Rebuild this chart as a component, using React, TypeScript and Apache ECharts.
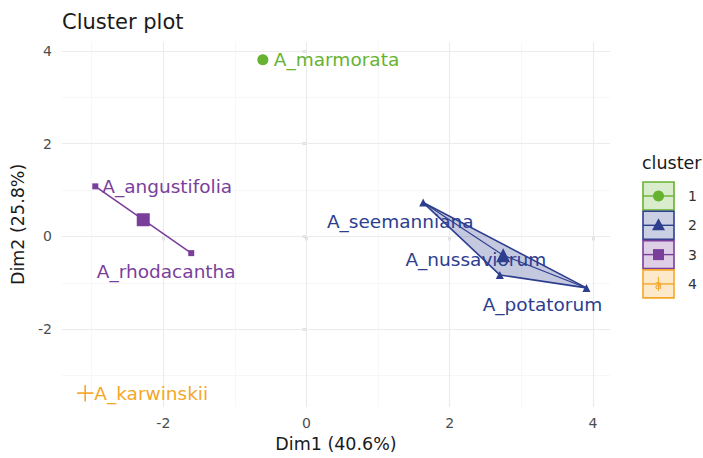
import React, { useEffect, useRef } from 'react';
import * as echarts from 'echarts';

// ---------- data ----------
const species = ['A_marmorata', 'A_seemanniana', 'A_nussaviorum', 'A_potatorum', 'A_angustifolia', 'A_rhodacantha', 'A_karwinskii'];
const dim1 = [-0.61, 1.63, 2.70, 3.91, -2.95, -1.61, -3.09];
const dim2 = [3.81, 0.73, -0.83, -1.11, 1.08, -0.36, -3.38];
const clusterOf = [1, 2, 2, 2, 3, 3, 4];
const clusters = [1, 2, 3, 4];
const majorTicks = [-2, 0, 2, 4];
const minorTicks = [-3, -1, 1, 3];
const chartTitle = 'Cluster plot';
const xTitle = 'Dim1 (40.6%)';
const yTitle = 'Dim2 (25.8%)';
const legendTitle = 'cluster';

// ---------- style ----------
const FONT = 'DejaVu Sans';
const COLORS: Record<number, string> = { 1: '#67b231', 2: '#2d3e8f', 3: '#7a3e9b', 4: '#f5a728' };
const PLUS = 'path://M0,4.6H10V5.4H0Z M4.6,0H5.4V10H4.6Z';
const SYMBOLS: Record<number, string> = { 1: 'circle', 2: 'triangle', 3: 'rect', 4: PLUS };
const PT_SIZE: Record<number, number> = { 1: 10, 2: 8, 3: 6, 4: 16 };
const CEN_SIZE: Record<number, number> = { 1: 11, 2: 14, 3: 13, 4: 16 };
const labelPlacement: Record<string, any> = {
  A_marmorata: { position: 'right', distance: 6 },
  A_angustifolia: { position: 'right', distance: 4 },
  A_karwinskii: { position: 'right', distance: 1 },
  A_rhodacantha: { position: 'inside', offset: [-25, 18] },
  A_seemanniana: { position: 'inside', offset: [-23, 19] },
  A_nussaviorum: { position: 'inside', offset: [-24, -15] },
  A_potatorum: { position: 'inside', offset: [-44, 17] },
};

function hexAlpha(hex: string, a: number) {
  const r = parseInt(hex.slice(1, 3), 16), g = parseInt(hex.slice(3, 5), 16), b = parseInt(hex.slice(5, 7), 16);
  return `rgba(${r},${g},${b},${a})`;
}

const idxOf = (c: number) => species.map((_, i) => i).filter((i) => clusterOf[i] === c);
const centroid = (c: number) => {
  const ids = idxOf(c);
  return [ids.reduce((s, i) => s + dim1[i], 0) / ids.length, ids.reduce((s, i) => s + dim2[i], 0) / ids.length];
};

export default function App() {
  const ref = useRef<HTMLDivElement>(null);
  useEffect(() => {
    if (!ref.current) return;
    const chart = echarts.init(ref.current, undefined, { renderer: 'svg' });

    const gridLine = (axis: 'xAxis' | 'yAxis', v: number, major: boolean) => ({
      [axis]: v,
      lineStyle: { color: major ? '#ebebeb' : '#f4f4f4', width: major ? 1.1 : 0.7, type: 'solid' },
    });

    const pointSeries = clusters.map((c) => ({
      type: 'scatter',
      z: 4,
      symbol: SYMBOLS[c],
      symbolSize: PT_SIZE[c],
      itemStyle: { color: COLORS[c], opacity: 1 },
      data: idxOf(c).map((i) => ({
        value: [dim1[i], dim2[i]],
        name: species[i],
        label: {
          show: true,
          formatter: species[i],
          color: COLORS[c],
          fontFamily: FONT,
          fontSize: 18.5,
          align: labelPlacement[species[i]].position === 'right' ? 'left' : 'center',
          verticalAlign: 'middle',
          ...labelPlacement[species[i]],
        },
      })),
    }));

    const centroidSeries = clusters.map((c) => ({
      type: 'scatter',
      z: 3,
      symbol: SYMBOLS[c],
      symbolSize: CEN_SIZE[c],
      itemStyle: { color: COLORS[c], opacity: 1 },
      data: [centroid(c)],
    }));

    const hullSeries = {
      type: 'custom',
      coordinateSystem: 'cartesian2d',
      z: 2,
      silent: true,
      data: [[0, 0]],
      renderItem: (_p: any, api: any) => {
        const children: any[] = [];
        clusters.forEach((c) => {
          const ids = idxOf(c);
          if (ids.length < 2) return;
          const pts = ids.map((i) => api.coord([dim1[i], dim2[i]]));
          children.push({
            type: 'polygon',
            shape: { points: pts },
            style: { fill: hexAlpha(COLORS[c], 0.28), stroke: COLORS[c], lineWidth: 1.6, lineJoin: 'round' },
          });
          if (ids.length > 2) {
            const cen = api.coord(centroid(c));
            children.push({
              type: 'polyline',
              shape: { points: [pts[0], cen, pts[pts.length - 1]] },
              style: { fill: 'none', stroke: COLORS[c], lineWidth: 1.1 },
            });
          }
        });
        return { type: 'group', children };
      },
    };

    const gridSeries = {
      type: 'scatter',
      z: 1,
      silent: true,
      data: [],
      markLine: {
        z: 1,
        zlevel: 0,
        silent: true,
        symbol: ['none', 'none'],
        label: { show: false },
        animation: false,
        data: [
          ...minorTicks.map((v) => gridLine('xAxis', v, false)),
          ...minorTicks.map((v) => gridLine('yAxis', v, false)),
          ...majorTicks.map((v) => gridLine('xAxis', v, true)),
          ...majorTicks.map((v) => gridLine('yAxis', v, true)),
        ],
      },
    };

    const legendItems: any[] = [];
    const lx = 643, lw = 31, lh = 28, ltop = 182, lstep = 29.3;
    clusters.forEach((c, k) => {
      const top = ltop + k * lstep;
      const cy = top + lh / 2;
      const cx = lx + lw / 2;
      const col = COLORS[c];
      legendItems.push({ type: 'rect', shape: { x: lx, y: top, width: lw, height: lh }, style: { fill: hexAlpha(col, 0.25), stroke: col, lineWidth: 1.6 } });
      legendItems.push({ type: 'line', shape: { x1: lx, y1: cy, x2: lx + lw, y2: cy }, style: { stroke: col, lineWidth: 1.4 } });
      if (c === 1) legendItems.push({ type: 'circle', shape: { cx, cy, r: 5.5 }, style: { fill: col } });
      if (c === 2) legendItems.push({ type: 'polygon', shape: { points: [[cx, cy - 7], [cx + 6.5, cy + 5], [cx - 6.5, cy + 5]] }, style: { fill: col } });
      if (c === 3) legendItems.push({ type: 'rect', shape: { x: cx - 5.5, y: cy - 5.5, width: 11, height: 11 }, style: { fill: col } });
      if (c === 4) {
        legendItems.push({ type: 'line', shape: { x1: cx, y1: cy - 7, x2: cx, y2: cy + 7 }, style: { stroke: col, lineWidth: 1 } });
        legendItems.push({ type: 'text', x: cx, y: cy + 1, style: { text: 'a', fill: col, font: `12px "${FONT}"`, textAlign: 'center', textVerticalAlign: 'middle' } });
      }
      legendItems.push({ type: 'text', x: 688, y: cy, style: { text: String(c), fill: '#333333', font: `14px "${FONT}"`, textAlign: 'left', textVerticalAlign: 'middle' } });
    });

    chart.setOption({
      animation: false,
      backgroundColor: '#ffffff',
      grid: { left: 62, right: 93, top: 41.65, bottom: 48, containLabel: false },
      xAxis: {
        type: 'value',
        min: -3.415,
        max: 4.239,
        axisLine: { show: false },
        axisTick: { show: true, length: 4, lineStyle: { color: '#333333', width: 1.3 }, customValues: majorTicks },
        axisLabel: { customValues: majorTicks, color: '#4d4d4d', fontSize: 14, fontFamily: FONT, margin: 9 },
        splitLine: { show: false },
        name: xTitle,
        nameLocation: 'middle',
        nameGap: 22,
        nameTextStyle: { fontSize: 17.5, color: '#1a1a1a', fontFamily: FONT },
      },
      yAxis: {
        type: 'value',
        min: -3.68,
        max: 4.2,
        axisLine: { show: false },
        axisTick: { show: true, length: 4, lineStyle: { color: '#333333', width: 1.3 }, customValues: majorTicks },
        axisLabel: { customValues: majorTicks, color: '#4d4d4d', fontSize: 14, fontFamily: FONT, margin: 10 },
        splitLine: { show: false },
        name: yTitle,
        nameLocation: 'middle',
        nameGap: 31,
        nameTextStyle: { fontSize: 17.5, color: '#1a1a1a', fontFamily: FONT },
      },
      graphic: [
        { type: 'text', left: 62, top: 11, style: { text: chartTitle, fill: '#1a1a1a', font: `21px "${FONT}"` } },
        { type: 'text', x: 642, y: 163, style: { text: legendTitle, fill: '#1a1a1a', font: `17.5px "${FONT}"`, textVerticalAlign: 'middle' } },
        ...legendItems,
      ],
      series: [gridSeries, hullSeries, ...centroidSeries, ...pointSeries],
    });
    return () => chart.dispose();
  }, []);
  return <div ref={ref} style={{ position: 'fixed', left: 0, top: 0, width: 703, height: 458, background: '#fff' }} />;
}
